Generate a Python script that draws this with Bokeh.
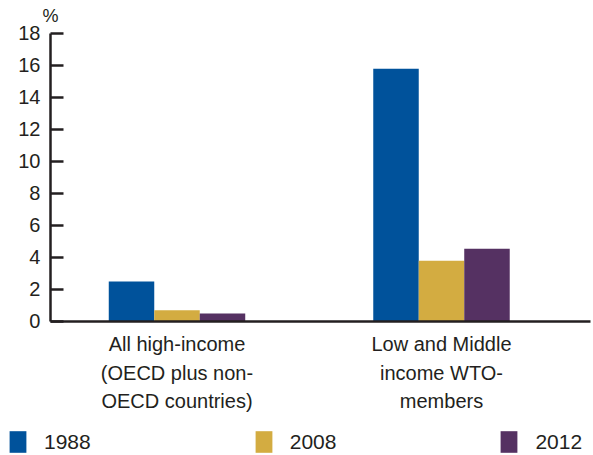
from bokeh.plotting import figure
from bokeh.models import (ColumnDataSource, Range1d, LinearAxis, FixedTicker,
                          Legend, LegendItem, Label)
from bokeh.transform import dodge
from bokeh.embed import file_html
from bokeh.resources import INLINE

groups = ["All high-income\n(OECD plus non-\nOECD countries)",
          "Low and Middle\nincome WTO-\nmembers"]
years = ["1988", "2008", "2012"]
v1988 = [2.5, 15.8]
v2008 = [0.7, 3.8]
v2012 = [0.5, 4.55]
y_ticks = [0, 2, 4, 6, 8, 10, 12, 14, 16, 18]

colors = ["#00529B", "#D3AC41", "#553162"]
FONT = "Liberation Sans"
AX = "#231F20"

# whole canvas is the plotting frame; axes are fixed inside it
X0, X1 = -0.6673, 1.5747      # x range spanning the canvas width
Y0, Y1 = -8.375, 20.06        # y range spanning the canvas height
YAX_X = -0.4783               # x position of the y axis
XAX_END = 1.5633              # right end of the x axis line

src = ColumnDataSource(dict(x=list(range(len(groups))), v1988=v1988, v2008=v2008, v2012=v2012))

p = figure(width=593, height=455, output_backend="svg", toolbar_location=None,
           x_range=Range1d(X0, X1), y_range=Range1d(Y0, Y1),
           x_axis_type=None, y_axis_type=None,
           min_border=0, min_border_left=0, min_border_right=0,
           min_border_top=0, min_border_bottom=0)
p.outline_line_color = None
p.xgrid.visible = False
p.ygrid.visible = False
p.background_fill_color = "white"
p.border_fill_color = "white"

w = 0.172
rs = []
for i, (yr, col) in enumerate(zip(years, colors)):
    r = p.vbar(x=dodge("x", (i - 1) * w, range=p.x_range), top="v" + yr, width=w,
               source=src, fill_color=col, line_color=None)
    rs.append(r)

yax = LinearAxis(ticker=FixedTicker(ticks=y_ticks), fixed_location=YAX_X, bounds=(0, 18))
yax.axis_line_color = AX
yax.axis_line_width = 2.5
yax.major_tick_line_color = AX
yax.major_tick_line_width = 2.5
yax.major_tick_in = 13
yax.major_tick_out = 0
yax.minor_tick_line_color = None
yax.major_label_standoff = 10
yax.major_label_text_font = FONT
yax.major_label_text_font_size = "20px"
yax.major_label_text_color = AX
p.add_layout(yax, "left")

xax = LinearAxis(ticker=FixedTicker(ticks=[0, 1]), fixed_location=0, bounds=(YAX_X, XAX_END))
xax.major_label_overrides = {0: groups[0], 1: groups[1]}
xax.axis_line_color = AX
xax.axis_line_width = 2.5
xax.major_tick_line_color = None
xax.minor_tick_line_color = None
xax.major_label_standoff = 6
xax.major_label_text_font = FONT
xax.major_label_text_font_size = "20px"
xax.major_label_text_color = AX
xax.major_label_text_line_height = 1.28
p.add_layout(xax, "below")

p.add_layout(Label(x=YAX_X, y=18, y_offset=7, text="%", text_align="center",
                   text_baseline="bottom", text_font=FONT, text_font_size="18px",
                   text_color=AX))

legend = Legend(items=[LegendItem(label=yr, renderers=[r]) for yr, r in zip(years, rs)],
                orientation="horizontal", location=(7, 0),
                glyph_width=21, glyph_height=27, label_standoff=16, spacing=162,
                padding=0, margin=0, border_line_color=None, background_fill_alpha=0,
                label_text_font=FONT, label_text_font_size="21px", label_text_color=AX)
p.add_layout(legend, "center")

open("out.html", "w").write(file_html(p, INLINE))
